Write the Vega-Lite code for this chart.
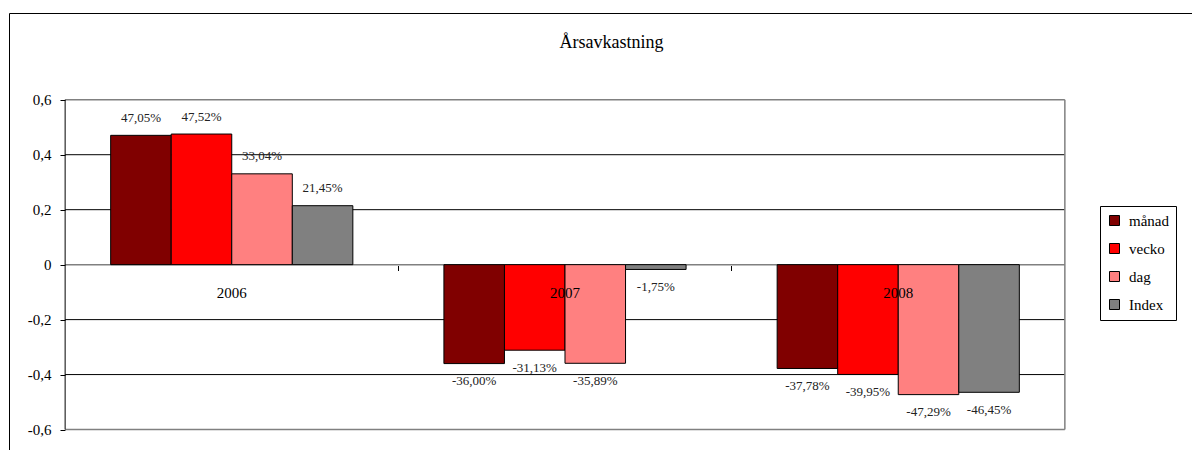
{
  "$schema": "https://vega.github.io/schema/vega-lite/v6.json",
  "autosize": {"type": "none"},
  "padding": {"left": 9, "top": 13, "right": -2, "bottom": -2},
  "width": 1185,
  "height": 439,
  "background": "white",
  "title": {
    "text": "Årsavkastning",
    "anchor": "middle",
    "frame": "group",
    "offset": -39,
    "dx": 10,
    "font": "Liberation Serif",
    "fontSize": 18,
    "fontWeight": "normal",
    "color": "black"
  },
  "config": {
    "locale": {
      "number": {"decimal": ",", "thousands": " ", "grouping": [3], "currency": ["", " kr"], "minus": "-"}
    },
    "view": {"stroke": "black", "strokeWidth": 1},
    "font": "Liberation Serif"
  },
  "datasets": {
    "returns": [
      {"year": "2006", "serie": "månad", "value": 0.4705},
      {"year": "2006", "serie": "vecko", "value": 0.4752},
      {"year": "2006", "serie": "dag", "value": 0.3304},
      {"year": "2006", "serie": "Index", "value": 0.2145},
      {"year": "2007", "serie": "månad", "value": -0.3600},
      {"year": "2007", "serie": "vecko", "value": -0.3113},
      {"year": "2007", "serie": "dag", "value": -0.3589},
      {"year": "2007", "serie": "Index", "value": -0.0175},
      {"year": "2008", "serie": "månad", "value": -0.3778},
      {"year": "2008", "serie": "vecko", "value": -0.3995},
      {"year": "2008", "serie": "dag", "value": -0.4729},
      {"year": "2008", "serie": "Index", "value": -0.4645}
    ],
    "gridlines": [{"v": -0.4}, {"v": -0.2}, {"v": 0.2}, {"v": 0.4}],
    "borders": [{"v": -0.6}, {"v": 0}, {"v": 0.6}]
  },
  "data": {"name": "returns"},
  "encoding": {
    "x": {
      "field": "year",
      "type": "nominal",
      "scale": {"domain": ["2006", "2007", "2008"], "paddingInner": 0, "paddingOuter": 0.278, "align": 0.303},
      "axis": {
        "orient": "bottom",
        "offset": -186.5,
        "bandPosition": 0,
        "values": ["2007", "2008"],
        "domain": false,
        "labels": false,
        "title": null,
        "grid": false,
        "ticks": true,
        "tickSize": 5,
        "tickColor": "black",
        "tickWidth": 1
      }
    }
  },
  "layer": [
    {
      "data": {"name": "gridlines"},
      "mark": {"type": "rule", "color": "black", "strokeWidth": 1},
      "encoding": {
        "x": {"datum": "2006", "bandPosition": 0},
        "x2": {"datum": "2008", "bandPosition": 1},
        "y": {"field": "v", "type": "quantitative"}
      }
    },
    {
      "data": {"name": "borders"},
      "mark": {"type": "rule", "color": "#808080", "strokeWidth": 1.5},
      "encoding": {
        "x": {"datum": "2006", "bandPosition": 0},
        "x2": {"datum": "2008", "bandPosition": 1},
        "y": {"field": "v", "type": "quantitative"}
      }
    },
    {
      "mark": {"type": "rule", "color": "#808080", "strokeWidth": 1.5},
      "transform": [{"filter": "datum.year === '2008' && datum.serie === 'Index'"}],
      "encoding": {
        "x": {"datum": "2008", "bandPosition": 1},
        "y": {"datum": -0.6},
        "y2": {"datum": 0.6}
      }
    },
    {
      "mark": {"type": "bar", "stroke": "black", "strokeWidth": 1},
      "encoding": {
        "xOffset": {
          "field": "serie",
          "type": "nominal",
          "sort": ["månad", "vecko", "dag", "Index"],
          "scale": {"paddingInner": 0, "paddingOuter": 0.752}
        },
        "y": {
          "field": "value",
          "type": "quantitative",
          "scale": {"domain": [-0.6817, 0.9156], "nice": false, "zero": false},
          "axis": {
            "orient": "left",
            "offset": -56,
            "values": [-0.6, -0.4, -0.2, 0, 0.2, 0.4, 0.6],
            "format": ".1~f",
            "domain": false,
            "grid": false,
            "title": null,
            "tickSize": 5,
            "tickColor": "black",
            "tickWidth": 1,
            "labelPadding": 9,
            "labelFont": "Liberation Serif",
            "labelFontSize": 15,
            "labelColor": "black"
          }
        },
        "y2": {"datum": 0},
        "color": {
          "field": "serie",
          "type": "nominal",
          "scale": {
            "domain": ["månad", "vecko", "dag", "Index"],
            "range": ["#800000", "#ff0000", "#ff8080", "#808080"]
          },
          "legend": {
            "orient": "none",
            "legendX": 1091,
            "legendY": 193,
            "title": null,
            "strokeColor": "black",
            "padding": 7,
            "symbolType": "square",
            "symbolSize": 100,
            "symbolStrokeColor": "black",
            "symbolStrokeWidth": 1,
            "symbolOpacity": 1,
            "labelFont": "Liberation Serif",
            "labelFontSize": 15,
            "labelColor": "black",
            "labelOffset": 7,
            "rowPadding": 12
          }
        }
      }
    },
    {
      "mark": {"type": "rule", "color": "black", "strokeWidth": 1},
      "transform": [{"filter": "datum.year === '2006' && datum.serie === 'månad'"}],
      "encoding": {
        "x": {"datum": "2006", "bandPosition": 0},
        "y": {"datum": -0.6},
        "y2": {"datum": 0.6}
      }
    },
    {
      "transform": [{"filter": "datum.value >= 0"}],
      "mark": {"type": "text", "baseline": "middle", "dy": -17.5, "fontSize": 13, "font": "Liberation Serif", "color": "#222222"},
      "encoding": {
        "xOffset": {"field": "serie", "type": "nominal", "sort": ["månad", "vecko", "dag", "Index"]},
        "y": {"field": "value", "type": "quantitative"},
        "text": {"field": "value", "type": "quantitative", "format": ".2%"}
      }
    },
    {
      "transform": [{"filter": "datum.value < 0"}],
      "mark": {"type": "text", "baseline": "middle", "dy": 17.5, "fontSize": 13, "font": "Liberation Serif", "color": "#222222"},
      "encoding": {
        "xOffset": {"field": "serie", "type": "nominal", "sort": ["månad", "vecko", "dag", "Index"]},
        "y": {"field": "value", "type": "quantitative"},
        "text": {"field": "value", "type": "quantitative", "format": ".2%"}
      }
    },
    {
      "transform": [{"filter": "datum.serie === 'månad'"}],
      "mark": {"type": "text", "baseline": "middle", "dy": 28, "fontSize": 15, "font": "Liberation Serif", "color": "black"},
      "encoding": {
        "y": {"datum": 0},
        "text": {"field": "year", "type": "nominal"}
      }
    }
  ]
}
